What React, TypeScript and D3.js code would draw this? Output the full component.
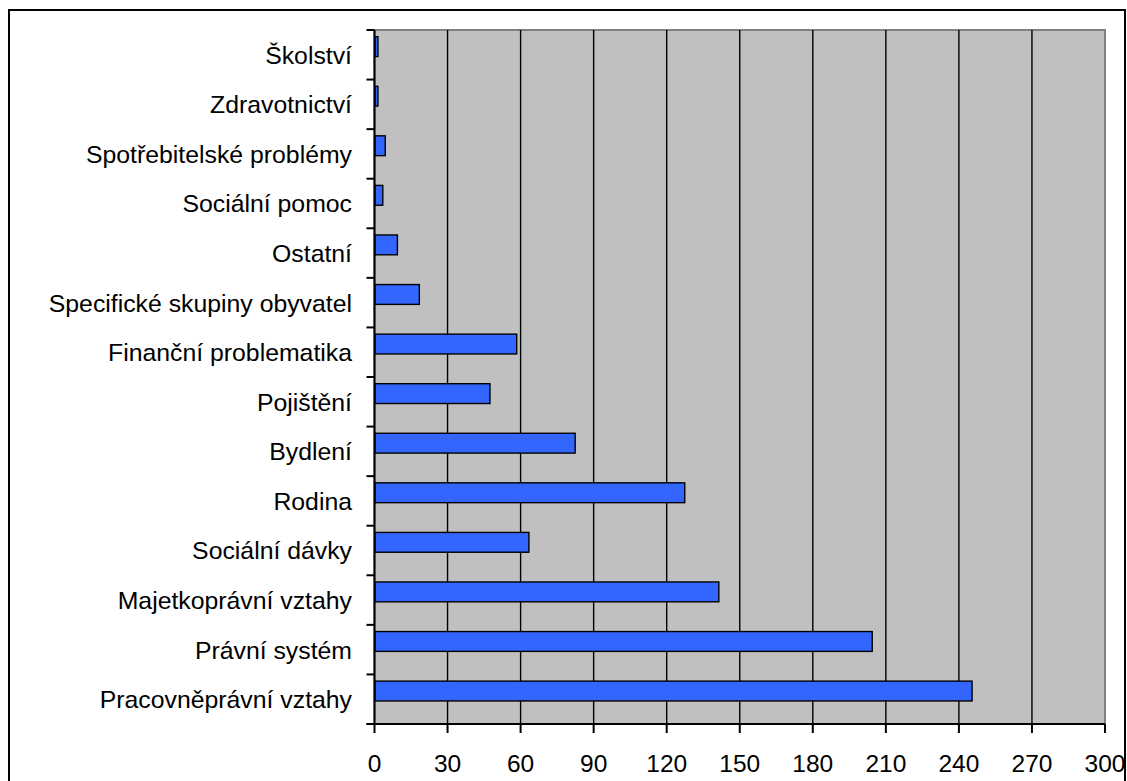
import React, { useEffect, useRef } from 'react';
import * as d3 from 'd3';

// categories, top to bottom as drawn
const categories = [
  'Školství',
  'Zdravotnictví',
  'Spotřebitelské problémy',
  'Sociální pomoc',
  'Ostatní',
  'Specifické skupiny obyvatel',
  'Finanční problematika',
  'Pojištění',
  'Bydlení',
  'Rodina',
  'Sociální dávky',
  'Majetkoprávní vztahy',
  'Právní systém',
  'Pracovněprávní vztahy',
];

const counts = [1, 1, 4, 3, 9, 18, 58, 47, 82, 127, 63, 141, 204, 245];

const xTicks = [0, 30, 60, 90, 120, 150, 180, 210, 240, 270, 300];

const App = () => {
  const ref = useRef<SVGSVGElement>(null);

  useEffect(() => {
    var svg, left, right, top, bottom, x, y, bw, font;

    left   = 374.5;
    right  = 1105;
    top    = 30;
    bottom = 724;
    font   = 'Arial, "Liberation Sans", sans-serif';

    svg = d3.select(ref.current);
    svg.selectAll('*').remove();

    x = d3.scaleLinear().domain([0, 300]).range([left, right]);
    y = d3.scaleBand().domain(categories).range([top, bottom]).padding(0);
    bw = y.bandwidth();

    // outer chart frame
    svg.append('rect')
      .attr('x', 9).attr('y', 10)
      .attr('width', 1116).attr('height', 800)
      .attr('fill', '#fff')
      .attr('stroke', '#000')
      .attr('stroke-width', 2);

    // plot area
    svg.append('rect')
      .attr('x', left).attr('y', top)
      .attr('width', right - left).attr('height', bottom - top)
      .attr('fill', '#c0c0c0')
      .attr('stroke', '#808080')
      .attr('stroke-width', 2);

    // vertical gridlines
    svg.append('g')
      .selectAll('line')
      .data(xTicks.filter(t => t > 0 && t < 300))
      .enter().append('line')
        .attr('x1', d => x(d)).attr('x2', d => x(d))
        .attr('y1', top).attr('y2', bottom)
        .attr('stroke', '#000')
        .attr('stroke-width', 1.4);

    // bars
    svg.append('g')
      .selectAll('rect')
      .data(categories)
      .enter().append('rect')
        .attr('x', x(0) + 0.5)
        .attr('y', d => y(d) + bw * 0.135)
        .attr('width', (d, i) => x(counts[i]) - x(0) + 0.5)
        .attr('height', bw * 0.4)
        .attr('fill', '#3366ff')
        .attr('stroke', '#000')
        .attr('stroke-width', 1.4);

    // y axis (ticks on band edges)
    var yAxis = svg.append('g');
    yAxis.append('line')
      .attr('x1', left).attr('x2', left)
      .attr('y1', top).attr('y2', bottom)
      .attr('stroke', '#000').attr('stroke-width', 2);
    yAxis.selectAll('line.tick')
      .data(d3.range(categories.length + 1))
      .enter().append('line')
        .attr('class', 'tick')
        .attr('x1', left - 8).attr('x2', left)
        .attr('y1', i => top + i * bw).attr('y2', i => top + i * bw)
        .attr('stroke', '#000').attr('stroke-width', 2);
    yAxis.selectAll('text')
      .data(categories)
      .enter().append('text')
        .attr('x', 352)
        .attr('y', d => y(d) + bw / 2)
        .attr('dy', '0.36em')
        .attr('text-anchor', 'end')
        .style('font-family', font)
        .style('font-size', '24.8px')
        .text(d => d);

    // x axis
    var xAxis = svg.append('g');
    xAxis.append('line')
      .attr('x1', left - 8).attr('x2', right)
      .attr('y1', bottom).attr('y2', bottom)
      .attr('stroke', '#000').attr('stroke-width', 2);
    xAxis.selectAll('line.tick')
      .data(xTicks)
      .enter().append('line')
        .attr('class', 'tick')
        .attr('x1', d => x(d)).attr('x2', d => x(d))
        .attr('y1', bottom).attr('y2', bottom + 9)
        .attr('stroke', '#000').attr('stroke-width', 2);
    xAxis.selectAll('text')
      .data(xTicks)
      .enter().append('text')
        .attr('x', d => x(d))
        .attr('y', 772)
        .attr('text-anchor', 'middle')
        .style('font-family', font)
        .style('font-size', '24.5px')
        .text(d => d);
  }, []);

  return (
    <svg
      ref={ref}
      width={1127}
      height={781}
      style={{ position: 'absolute', left: 0, top: 0, background: '#fff' }}
    />
  );
};

export default App;
